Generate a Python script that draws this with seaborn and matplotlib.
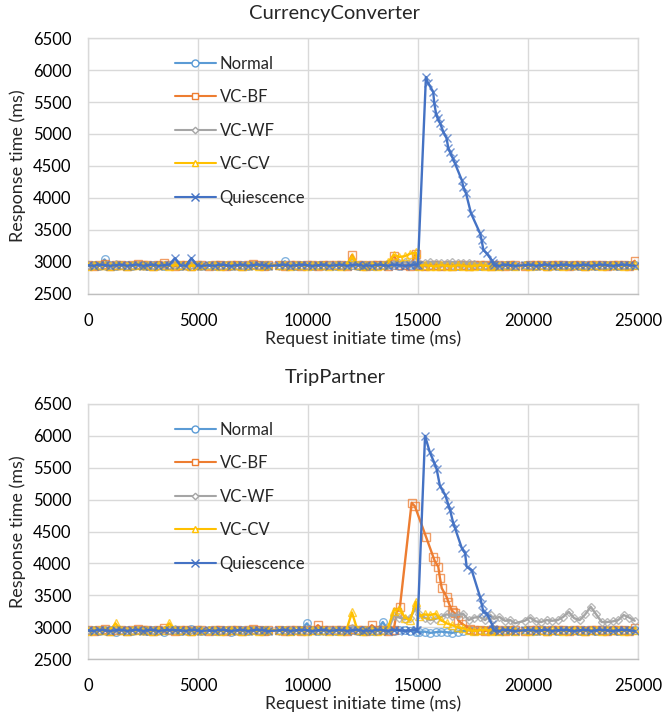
import numpy as np
import pandas as pd
import matplotlib
matplotlib.use("Agg")
import matplotlib.pyplot as plt
from matplotlib.lines import Line2D
import seaborn as sns

# ---------------- data ----------------
series_names = ["Normal", "VC-BF", "VC-WF", "VC-CV", "Quiescence"]
colors = ["#5B9BD5", "#ED7D31", "#A5A5A5", "#FFC000", "#4472C4"]
markers = ["o", "s", "D", "^", "x"]
msizes = [5.5, 5.5, 3.8, 5.5, 6.0]

x_ticks = [0, 5000, 10000, 15000, 20000, 25000]
y_ticks = [2500, 3000, 3500, 4000, 4500, 5000, 5500, 6000, 6500]

# request initiate times (ms) of the sampled requests
t_grid = [0, 250, 500, 750, 1000, 1250, 1500, 1750, 2000, 2250, 2500,
          2700, 2950, 3200, 3450, 3700, 3950, 4200, 4450, 4700, 4950, 5150,
          5500, 5750, 6000, 6250, 6500, 6750, 7000, 7250, 7500, 7750, 8000, 8200,
          8700, 8950, 9200, 9450, 9700, 9950, 10200, 10450, 10700, 10950,
          11250, 11500, 11750, 12000, 12250, 12500,
          12650, 12900, 13150, 13400, 13650, 13900, 14150, 14400, 14650, 14900,
          15050, 15300, 15550, 15800, 16050, 16300, 16550, 16800, 17050, 17300, 17550, 17800, 18050, 18300,
          18450, 18700, 18950, 19200, 19400,
          19850, 20100, 20350, 20600, 20850, 21100, 21350, 21600, 21850, 22100, 22350,
          22600, 22850, 23100, 23350, 23600, 23850, 24100, 24350, 24600, 24850]
N = None

# ---- CurrencyConverter ----
cc_normal = [2950, 2960, 2940, 3040, 2950, 2930, 2960, 2950, 2940, 2960, 2950,
             2940, 2960, 2950, 2930, 2950, 2960, 2940, 2950, 2970, 2950, 2940,
             2950, 2940, 2960, 2950, 2930, 2950, 2960, 2940, 2950, 2960, 2950, 2940,
             2960, 3010, 2950, 2940, 2960, 2950, 2940, 2950, 2960, 2950,
             2940, 2950, 2960, 2950, 2940, 2960,
             2950, 2940, 2960, 2950, 2970, 2950, 2940, 2960, 2950, 2940,
             2950, 2940, 2960, 2950, 2940, 2950, 2960, 2940, 2950, 2960, 2950, 2940, 2950, 2960,
             2950, 2940, 2960, 2950, 2940,
             2950, 2960, 2940, 2950, 2960, 2950, 2940, 2950, 2960, 2950, 2940,
             2960, 2950, 2940, 2950, 2960, 2950, 2940, 2950, 2960, 2950]
cc_bf = [2960, 2940, 2950, 2970, 2940, 2950, 2960, 2940, 2950, 2970, 2950,
         2950, 2940, 2960, 2980, 2950, 2940, 2950, 2960, 2940, 2950, 2960,
         2940, 2960, 2950, 2940, 2960, 2950, 2940, 2950, 2970, 2950, 2940, 2960,
         2950, 2940, 2960, 2950, 2940, 2960, 2950, 2940, 2960, 2950,
         2960, 2950, 2940, 3110, 2950, 2960,
         2940, 2950, 2960, 2950, 2940, 3100, 2960, 2950, 2930, 3130,
         2960, 2940, 2950, 2960, 2940, 2950, 2940, 2960, 2950, 2940, 2950, 2960, 2950, 2940,
         2960, 2950, 2940, 2950, 2960,
         2940, 2950, 2960, 2950, 2940, 2950, 2960, 2950, 2940, 2960, 2950,
         2940, 2950, 2960, 2950, 2940, 2950, 2960, 2950, 2940, 3020]
cc_wf = [2950, 2960, 2950, 2940, 2960, 2970, 2950, 2940, 2960, 2950, 2940,
         2960, 2950, 2940, 2960, 2950, 2970, 2950, 2940, 2960, 2950, 2950,
         2950, 2960, 2940, 2950, 2960, 2940, 2950, 2960, 2950, 2940, 2960, 2950,
         2940, 2950, 2960, 2950, 2940, 2950, 2960, 2950, 2940, 2960,
         2950, 2960, 2950, 2990, 2960, 2950,
         2960, 2950, 2940, 2960, 2950, 2980, 2990, 3000, 2980, 3000,
         2990, 2980, 3000, 2990, 2980, 2990, 3000, 2980, 2990, 2980, 2970, 2960, 2950, 2960,
         2950, 2960, 2950, 2940, 2950,
         2960, 2950, 2940, 2960, 2950, 2940, 2950, 2960, 2950, 2940, 2960,
         2950, 2940, 2960, 2950, 2960, 2940, 2950, 2960, 2950, 2950]
cc_cv = [2940, 2950, 2960, 2950, 2940, 2960, 2950, 2940, 2950, 2960, 2950,
         2950, 2940, 2960, 2950, 2940, 2950, 2960, 2950, 2940, 2960, 2950,
         2960, 2950, 2940, 2950, 2960, 2950, 2940, 2960, 2950, 2940, 2950, 2960,
         2950, 2960, 2940, 2950, 2960, 2940, 2950, 2960, 2950, 2940,
         2950, 2940, 2960, 3080, 2950, 2940,
         2950, 2960, 2940, 2950, 3000, 3110, 3080, 3090, 3130, 3150,
         2940, 2950, 2940, 2930, 2950, 2940, 2930, 2950, 2940, 2930, 2940, 2950, 2940, 2930,
         2950, 2940, 2950, 2960, 2940,
         2950, 2940, 2960, 2950, 2940, 2950, 2960, 2940, 2950, 2960, 2950,
         2940, 2950, 2960, 2940, 2950, 2960, 2950, 2940, 2950, 2960]
cc_q = [2950, 2940, 2960, 2950, 2940, 2950, 2960, 2940, 2950, 2960, 2940,
        2950, 2960, 2940, 2950, 2960, 3060, 2950, 2940, 3060, 2950, 2940,
        2950, 2940, 2960, 2950, 2940, 2950, 2960, 2940, 2950, 2960, 2950, 2940,
        2950, 2960, 2940, 2950, 2960, 2950, 2940, 2950, 2960, 2940,
        2950, 2960, 2940, 2950, 2960, 2940,
        2950, 2940, 2960, 2950, 2940, 2960, 2950, 2940, 2950, 2960,
        N, N, N, N, N, N, N, N, N, N, N, N, N, N,
        2950, 2940, 2960, 2950, 2940,
        2950, 2960, 2940, 2950, 2960, 2940, 2950, 2960, 2950, 2940, 2950,
        2960, 2940, 2950, 2960, 2950, 2940, 2950, 2960, 2950, 2940]
cc_q_peak_t = [15000, 15360, 15450, 15690, 15740, 15820, 15890, 16000, 16150, 16300, 16380,
               16450, 16580, 16680, 16990, 17060, 17180, 17410, 17820, 17890, 17970, 18120,
               18350, 18420]
cc_q_peak_y = [2960, 5890, 5800, 5660, 5480, 5320, 5245, 5170, 5035, 4930, 4775,
               4720, 4620, 4540, 4280, 4175, 4075, 3760, 3450, 3345, 3190, 3135,
               3030, 2980]

# ---- TripPartner ----
tp_normal = [2950, 2960, 2940, 2950, 2950, 2930, 2960, 2950, 2940, 2960, 2950,
             2940, 2960, 2950, 2930, 2950, 2960, 2940, 2950, 2970, 2950, 2940,
             2950, 2940, 2960, 2950, 2930, 2950, 2960, 2940, 2950, 2960, 2950, 2940,
             2950, 2960, 2940, 2950, 2960, 3060, 2950, 2940, 2960, 2950,
             2940, 2950, 2960, 2950, 2940, 2960,
             2950, 2940, 2960, 3080, 2950, 2940, 2960, 2950, 2940, 2930,
             2920, 2930, 2910, 2920, 2930, 2920, 2910, 2930, 2940, 2950, 2940, 2950, 2960, 2950,
             2950, 2940, 2960, 2950, 2940,
             2950, 2960, 2940, 2950, 2960, 2950, 2940, 2950, 2960, 2950, 2940,
             2960, 2950, 2940, 2950, 2960, 2950, 2940, 2950, 2960, 2950]
tp_bf = [2960, 2940, 2950, 2970, 2940, 2950, 2960, 2940, 2950, 2970, 2950,
         2950, 2940, 2960, 2980, 2950, 2940, 2950, 2960, 2940, 2950, 2960,
         2940, 2960, 2950, 2940, 2960, 2950, 2940, 2950, 2970, 2950, 2940, 2960,
         2950, 2940, 2960, 2950, 2940, 2960, 2950, 3030, 2960, 2950,
         2960, 2950, 2940, 2970, 2950, 2960,
         2940, 3030, 2960, 2950, 2940, 2960, N, N, N, N,
         N, N, N, N, N, N, N, N, N, N, 2950, 2960, 2940, 2960,
         2960, 2950, 2940, 2950, 2960,
         2940, 2950, 2960, 2950, 2940, 2950, 2960, 2950, 2940, 2960, 2950,
         2940, 2950, 2960, 2950, 2940, 2950, 2960, 2950, 2940, 2980]
tp_bf_peak_t = [14030, 14180, 14710, 14860, 15360, 15690, 15770, 15920, 16000, 16080, 16300,
                16380, 16530, 16600, 16680, 16830, 16990, 17360]
tp_bf_peak_y = [3240, 3320, 4950, 4895, 4420, 4105, 4030, 3950, 3765, 3610, 3475,
                3395, 3265, 3240, 3215, 3110, 3055, 2975]
tp_wf = [2950, 2960, 2950, 2940, 2960, 2970, 2950, 2940, 2960, 2950, 2940,
         2960, 2950, 2940, 2960, 2950, 2970, 2950, 2940, 2960, 2950, 2950,
         2950, 2960, 2940, 2950, 2960, 2940, 2950, 2960, 2950, 2940, 2960, 2950,
         2940, 2950, 2960, 2950, 2940, 2950, 2960, 2950, 2940, 2960,
         2950, 2960, 2950, 2980, 2960, 2950,
         2960, 2950, 2940, 2960, 2950, 3180, 3150, 3120, 3150, 3300,
         3200, 3150, 3110, 3130, 3160, 3200, 3180, 3190, 3210, 3110, 3150, 3160, 3110, 3190,
         3130, 3160, 3100, 3110, 3060,
         3100, 3150, 3090, 3080, 3110, 3100, 3110, 3160, 3240, 3140, 3110,
         3200, 3320, 3200, 3080, 3080, 3090, 3110, 3190, 3150, 3100]
tp_cv = [2940, 2950, 2960, 2950, 2940, 3060, 2950, 2940, 2950, 2960, 2950,
         2950, 2940, 2960, 2950, 3060, 2950, 2960, 2950, 2940, 2960, 2950,
         2960, 2950, 2940, 2950, 2960, 2950, 2940, 2960, 2950, 2940, 2950, 2960,
         2950, 2960, 2940, 2950, 2960, 2940, 2950, 2960, 2950, 2940,
         2950, 2940, 2960, 3230, 2950, 2940,
         2950, 2960, 2940, 2950, 3000, 3260, 3290, 3150, 3110, 3400,
         3170, 3200, 3190, 3210, 3110, 3060, 3030, 3000, 2980, 2950, 2940, 2950, 2960, 2940,
         2950, 2940, 2950, 2960, 2940,
         2950, 2940, 2960, 2950, 2940, 2950, 2960, 2940, 2950, 2960, 2950,
         2940, 2950, 2960, 2940, 2950, 2960, 2950, 2940, 2950, 2960]
tp_q = [2950, 2940, 2960, 2950, 2940, 2950, 2960, 2940, 2950, 2960, 2940,
        2950, 2960, 2940, 2950, 2960, 2950, 2950, 2940, 2960, 2950, 2940,
        2950, 2940, 2960, 2950, 2940, 2950, 2960, 2940, 2950, 2960, 2950, 2940,
        2950, 2960, 2940, 2950, 2960, 2950, 2940, 2950, 2960, 2940,
        2950, 2960, 2940, 2950, 2960, 2940,
        2950, 2940, 2960, 2950, 2940, 2960, 2950, 2940, 2950, 2960,
        N, N, N, N, N, N, N, N, N, N, N, N, N, N,
        2950, 2940, 2960, 2950, 2940,
        2950, 2960, 2940, 2950, 2960, 2940, 2950, 2960, 2950, 2940, 2950,
        2960, 2940, 2950, 2960, 2950, 2940, 2950, 2960, 2950, 2940]
tp_q_peak_t = [14970, 15320, 15540, 15740, 15850, 16000, 16230, 16380, 16450, 16600, 16680,
               16990, 17140, 17210, 17440, 17820, 17890, 17970, 18120, 18350, 18420]
tp_q_peak_y = [2950, 6000, 5740, 5580, 5475, 5210, 5080, 4920, 4845, 4635, 4555,
               4240, 4160, 3950, 3895, 3475, 3370, 3240, 3215, 3055, 2975]

charts = [
    ("CurrencyConverter",
     [(cc_normal, [], []), (cc_bf, [], []), (cc_wf, [], []), (cc_cv, [], []),
      (cc_q, cc_q_peak_t, cc_q_peak_y)]),
    ("TripPartner",
     [(tp_normal, [], []), (tp_bf, tp_bf_peak_t, tp_bf_peak_y), (tp_wf, [], []),
      (tp_cv, [], []), (tp_q, tp_q_peak_t, tp_q_peak_y)]),
]


def build(base, pt, py):
    xs = [t for t, v in zip(t_grid, base) if v is not None] + list(pt)
    ys = [v for v in base if v is not None] + list(py)
    df = pd.DataFrame({"t": xs, "rt": ys}).sort_values("t", kind="stable")
    return df


# ---------------- plot ----------------
sns.set_theme(style="white")
plt.rcParams["font.family"] = ["Lato", "DejaVu Sans"]

fig = plt.figure(figsize=(6.63, 7.19), dpi=100)
positions = [[88 / 663, 1 - 294 / 719, 550 / 663, 256 / 719],
             [88 / 663, 1 - 659 / 719, 550 / 663, 255 / 719]]
title_y = [1 - 13 / 719, 1 - 378 / 719]

for ci, (title, series) in enumerate(charts):
    ax = fig.add_axes(positions[ci])
    for si, (base, pt, py) in enumerate(series):
        df = build(base, pt, py)
        rgba = matplotlib.colors.to_rgba(colors[si], 0.75)
        sns.lineplot(data=df, x="t", y="rt", ax=ax, sort=False, estimator=None,
                     color=colors[si], lw=1.7, marker=markers[si],
                     markersize=msizes[si], markerfacecolor="none",
                     markeredgecolor=rgba, markeredgewidth=1.0, zorder=3 + si)
    ax.set_xlim(0, 25000)
    ax.set_ylim(2500, 6500)
    ax.set_xticks(x_ticks)
    ax.set_yticks(y_ticks)
    ax.set_xticklabels([str(v) for v in x_ticks], fontsize=12, color="#000000")
    ax.set_yticklabels([str(v) for v in y_ticks], fontsize=12, color="#000000")
    ax.tick_params(axis="both", length=0)
    ax.tick_params(axis="x", pad=14)
    ax.tick_params(axis="y", pad=12)
    ax.grid(True, color="#D9D9D9", lw=1.0, zorder=0)
    ax.set_axisbelow(True)
    for side in ["top", "right", "left"]:
        ax.spines[side].set_color("#D9D9D9")
        ax.spines[side].set_linewidth(1.0)
    ax.spines["bottom"].set_color("#BFBFBF")
    ax.spines["bottom"].set_linewidth(1.0)
    ax.set_xlabel("Request initiate time (ms)", fontsize=12.7, labelpad=1)
    ax.set_ylabel("Response time (ms)", fontsize=13, labelpad=5)
    fig.text(0.505, title_y[ci], title, ha="center", va="center", fontsize=14.5)

    handles = [Line2D([0], [0], color=colors[i], lw=1.5, marker=markers[i],
                      markersize=msizes[i] - 0.5, markerfacecolor="white",
                      markeredgecolor=colors[i], markeredgewidth=1.0)
               for i in range(5)]
    ax.legend(handles, series_names, loc="upper left", bbox_to_anchor=(0.13, 0.99),
              frameon=False, fontsize=12, labelspacing=1.05, handlelength=2.5,
              handletextpad=0.2, borderpad=0.4)

fig.savefig("out.png", dpi=100)
